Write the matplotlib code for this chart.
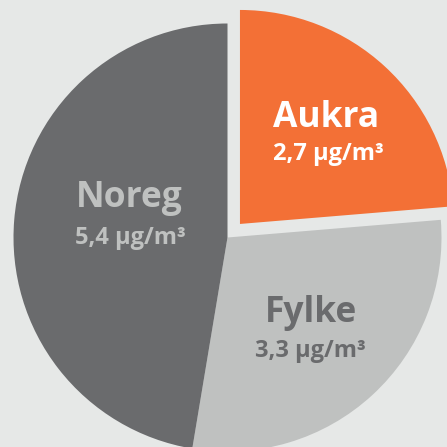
import matplotlib
matplotlib.use('Agg')
import matplotlib.pyplot as plt

labels = ['Aukra', 'Fylke', 'Noreg']
values = [2.7, 3.3, 5.4]
value_text = ['2,7 µg/m³', '3,3 µg/m³', '5,4 µg/m³']
colors = ['#f37036', '#bfc1c0', '#6a6b6d']
text_colors = ['white', '#6a6b6d', '#bfc1c0']
explode = [0.086, 0, 0]

bg = '#e6e8e7'
plt.rcParams['font.family'] = ['Open Sans', 'DejaVu Sans']

fig = plt.figure(figsize=(4.47, 4.47), dpi=100, facecolor=bg)
ax = fig.add_axes([0, 0, 1, 1])
ax.set_facecolor(bg)

wedges, _ = ax.pie(values, colors=colors, explode=explode, startangle=90,
                   counterclock=False, radius=1, center=(0, 0),
                   wedgeprops={'linewidth': 0})

# pie centre sits at pixel (227.5, 237.5), radius 214 px
cx, cy, r = 227.5, 237.5, 214.0
ax.set_xlim(-cx / r, (447 - cx) / r)
ax.set_ylim(-(447 - cy) / r, cy / r)
ax.set_aspect('auto')
ax.axis('off')


def px(x, y):
    return (x - cx) / r, (cy - y) / r


# label anchors in pixels: (name x, name baseline, value x, value baseline)
anchors = [(326, 127, 328.5, 160), (310.5, 322, 310, 357), (129.5, 207, 130, 244)]
for name, val, col, a in zip(labels, value_text, text_colors, anchors):
    ax.text(*px(a[0], a[1]), name, ha='center', va='baseline',
            fontsize=25.5, fontweight='bold', color=col)
    ax.text(*px(a[2], a[3]), val, ha='center', va='baseline',
            fontsize=17, fontweight='bold', color=col)

fig.savefig('out.png', dpi=100, facecolor=bg)
